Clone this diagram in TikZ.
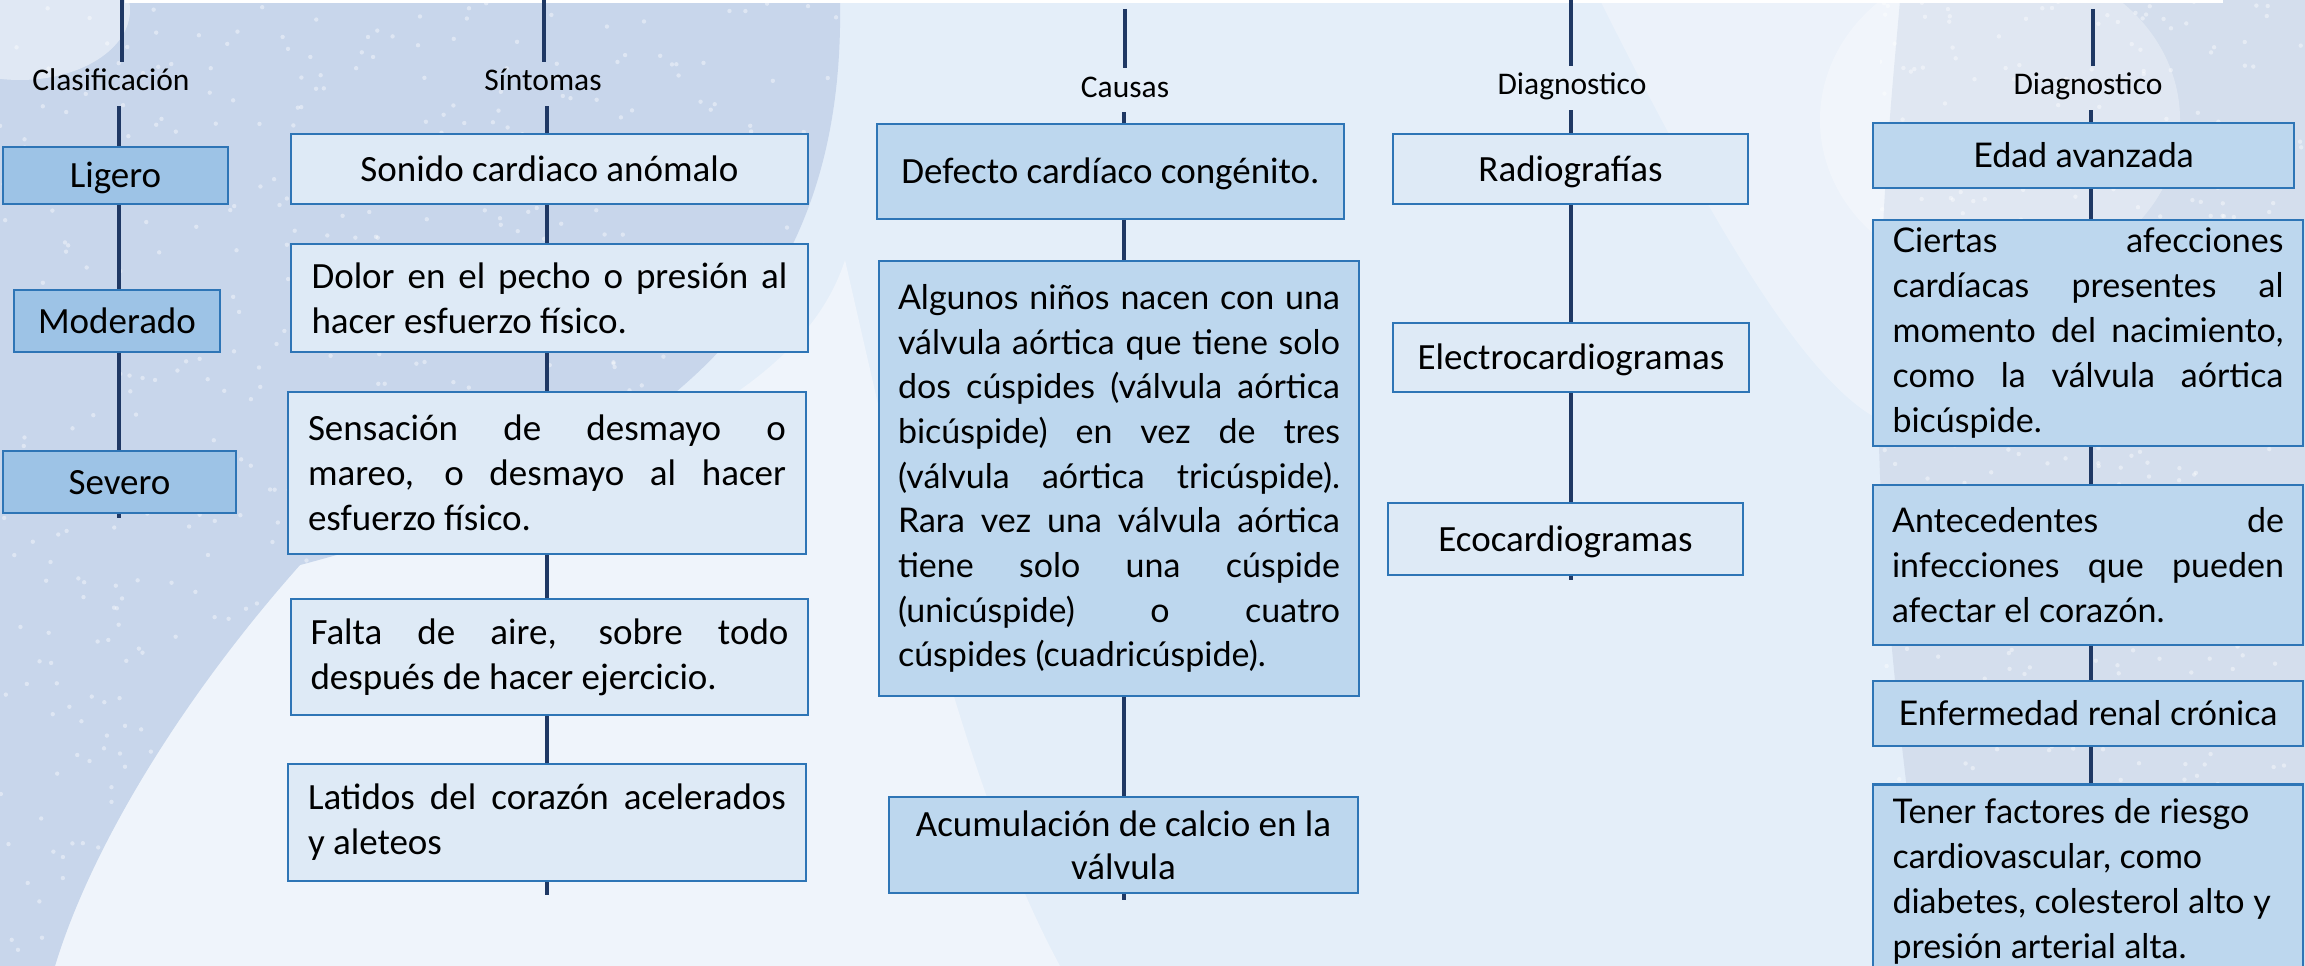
\documentclass[tikz,border=0pt]{standalone}
\usepackage{fontspec}
\setmainfont{Carlito}
\newfontfamily\gillf{Lato}
\newcommand{\jl}[2]{\makebox[#1][s]{#2}}
\definecolor{bgbase}{HTML}{E4EEF9}
\definecolor{bgdark}{HTML}{C8D6EB}
\definecolor{bgwhite}{HTML}{EFF4FB}
\definecolor{bgright}{HTML}{D4DEED}
\definecolor{linec}{HTML}{1F3864}
\definecolor{bordc}{HTML}{2E75B6}
\definecolor{fillA}{HTML}{9DC3E6}
\definecolor{fillB}{HTML}{DEEAF6}
\definecolor{fillC}{HTML}{BDD7EE}
\tikzset{
  conn/.style={draw=linec, line width=3.5pt},
  bx/.style={draw=bordc, line width=2.6pt, inner sep=0pt, anchor=center, text=black},
  bxA/.style={bx, fill=fillA},
  bxB/.style={bx, fill=fillB},
  bxC/.style={bx, fill=fillC},
  hd/.style={font=\fontsize{31.5}{38}\selectfont, inner sep=0pt, text height=29pt, text depth=15pt, anchor=base},
  cal/.style={font=\fontsize{37}{45}\selectfont},
  gil/.style={font=\gillf\fontsize{34}{45}\selectfont},
  gilc/.style={font=\gillf\fontsize{34}{44.7}\selectfont},
  one/.style={text height=30pt, text depth=6pt},
  oneg/.style={text height=29pt, text depth=6pt},
  speck/.style={fill=white, opacity=0.4},
}
\begin{document}
\begin{tikzpicture}[x=1pt,y=-1pt]
\useasboundingbox (0,0) rectangle (2305,966);
\clip (0,0) rectangle (2305,966);
% ---------- background ----------
\fill[bgbase] (0,0) rectangle (2305,966);
\fill[bgwhite] (845,260) .. controls (900,500) and (960,780) .. (1060,966) -- (55,966)
   .. controls (90,850) and (180,700) .. (300,565) .. controls (600,480) and (800,400) .. (845,260) -- cycle;
\fill[bgdark] (0,0) -- (840,0) .. controls (845,280) and (700,460) .. (300,565)
   .. controls (180,700) and (90,850) .. (55,966) -- (0,966) -- cycle;
\fill[white, opacity=0.45] (20,10) ellipse [x radius=110, y radius=70];
\fill[bgwhite, opacity=0.8] (1600,0) .. controls (1700,200) and (1800,380) .. (1880,420) -- (1900,0) -- cycle;
\fill[bgright] (1900,0) -- (2305,0) -- (2305,966) -- (1930,966)
   .. controls (1900,750) and (1870,500) .. (1880,300) .. controls (1885,150) and (1895,60) .. (1900,0) -- cycle;
\fill[white, opacity=0.3] (2000,120) ellipse [x radius=180, y radius=160];
\begin{scope}
  \clip (0,0) -- (840,0) .. controls (845,280) and (700,460) .. (300,565)
   .. controls (180,700) and (90,850) .. (55,966) -- (0,966) -- cycle;
  \pgfmathsetseed{7}
  \foreach \i in {1,...,700} {
    \pgfmathsetmacro\px{rnd*860}
    \pgfmathsetmacro\py{rnd*966}
    \fill[speck] (\px,\py) circle (2.2);
  }
\end{scope}
\begin{scope}
  \clip (1880,0) rectangle (2305,966);
  \pgfmathsetseed{11}
  \foreach \i in {1,...,450} {
    \pgfmathsetmacro\px{1880+rnd*425}
    \pgfmathsetmacro\py{rnd*966}
    \fill[speck] (\px,\py) circle (2.2);
  }
\end{scope}
\fill[white] (125,0) rectangle (2223,3);
% ---------- column 1 ----------
\coordinate (x1) at (119,0);
\coordinate (t1) at (122,0);
\coordinate (s1) at (119,518);
\node[hd] (h1) at (111,91) {Clasificación};
\node[bxA, cal, one, minimum width=225pt, minimum height=57pt] (lig) at (115.5,175.5) {Ligero};
\node[bxA, cal, one, minimum width=206pt, minimum height=62pt] (mod) at (117,321) {Moderado};
\node[bxA, cal, one, minimum width=233pt, minimum height=62pt] (sev) at (119.5,482) {Severo};
\draw[conn] (t1) -- (t1 |- h1.north);
\draw[conn] (h1.south -| x1) -- (lig.north -| x1);
\draw[conn] (lig.south -| x1) -- (mod.north -| x1);
\draw[conn] (mod.south -| x1) -- (sev.north -| x1);
\draw[conn] (sev.south -| x1) -- (s1);
% ---------- column 2 ----------
\coordinate (x2) at (547,0);
\coordinate (t2) at (544,0);
\coordinate (s2) at (547,895);
\node[hd] (h2) at (543,91) {Síntomas};
\node[bxB, cal, one, minimum width=517pt, minimum height=70pt] (son) at (549.5,169) {Sonido cardiaco anómalo};
\node[bxB, cal, minimum width=517pt, minimum height=108pt] (dol) at (549.5,298)
  {\parbox{476pt}{\jl{476pt}{Dolor en el pecho o presión al}\\hacer esfuerzo físico.}};
\node[bxB, cal, minimum width=518pt, minimum height=162pt] (sen) at (547,473)
  {\parbox{478pt}{\jl{478pt}{Sensación de desmayo o}\\\jl{478pt}{mareo, o desmayo al hacer}\\esfuerzo físico.}};
\node[bxB, cal, minimum width=517pt, minimum height=116pt] (fal) at (549.5,657)
  {\parbox{478pt}{\jl{478pt}{Falta de aire, sobre todo}\\después de hacer ejercicio.}};
\node[bxB, cal, minimum width=518pt, minimum height=117pt] (lat) at (547,822.5)
  {\parbox{478pt}{\jl{478pt}{Latidos del corazón acelerados}\\y aleteos}};
\draw[conn] (t2) -- (t2 |- h2.north);
\draw[conn] (h2.south -| x2) -- (son.north -| x2);
\draw[conn] (son.south -| x2) -- (dol.north -| x2);
\draw[conn] (dol.south -| x2) -- (sen.north -| x2);
\draw[conn] (sen.south -| x2) -- (fal.north -| x2);
\draw[conn] (fal.south -| x2) -- (lat.north -| x2);
\draw[conn] (lat.south -| x2) -- (s2);
% ---------- column 3 ----------
\coordinate (x3) at (1124,0);
\coordinate (t3) at (1125,9);
\coordinate (s3) at (1124,900);
\node[hd] (h3) at (1125,97) {Causas};
\node[bxC, cal, one, minimum width=467pt, minimum height=95pt] (def) at (1110.5,171.5) {Defecto cardíaco congénito.};
\node[bxC, gilc, minimum width=480pt, minimum height=435pt] (alg) at (1119,478.5)
  {\parbox{442pt}{%
   \jl{442pt}{Algunos niños nacen con una}\\
   \jl{442pt}{válvula aórtica que tiene solo}\\
   \jl{442pt}{dos cúspides (válvula aórtica}\\
   \jl{442pt}{bicúspide) en vez de tres}\\
   \jl{442pt}{(válvula aórtica tricúspide).}\\
   \jl{442pt}{Rara vez una válvula aórtica}\\
   \jl{442pt}{tiene solo una cúspide}\\
   \jl{442pt}{(unicúspide) o cuatro}\\
   cúspides (cuadricúspide).}};
\node[bxC, font=\fontsize{37}{43}\selectfont, minimum width=469pt, minimum height=96pt] (acu) at (1123.5,845)
  {\parbox{450pt}{\centering Acumulación de calcio en la\\válvula}};
\draw[conn] (t3) -- (t3 |- h3.north);
\draw[conn] (h3.south -| x3) -- (def.north -| x3);
\draw[conn] (def.south -| x3) -- (alg.north -| x3);
\draw[conn] (alg.south -| x3) -- (acu.north -| x3);
\draw[conn] (acu.south -| x3) -- (s3);
% ---------- column 4 ----------
\coordinate (x4) at (1571,0);
\coordinate (t4) at (1571,0);
\coordinate (s4) at (1571,580);
\node[hd] (h4) at (1572,95) {Diagnostico};
\node[bxB, cal, one, minimum width=355pt, minimum height=70pt] (rad) at (1570.5,169) {Radiografías};
\node[bxB, cal, one, minimum width=356pt, minimum height=69pt] (ele) at (1571,357.5) {Electrocardiogramas};
\node[bxB, cal, one, minimum width=355pt, minimum height=72pt] (eco) at (1565.5,539) {Ecocardiogramas};
\draw[conn] (t4) -- (t4 |- h4.north);
\draw[conn] (h4.south -| x4) -- (rad.north -| x4);
\draw[conn] (rad.south -| x4) -- (ele.north -| x4);
\draw[conn] (ele.south -| x4) -- (eco.north -| x4);
\draw[conn] (eco.south -| x4) -- (s4);
% ---------- column 5 ----------
\coordinate (x5) at (2091,0);
\coordinate (t5) at (2093,9);
\node[hd] (h5) at (2088,95) {Diagnostico};
\node[bxC, gil, oneg, minimum width=421pt, minimum height=65pt] (eda) at (2083.5,155.5) {Edad avanzada};
\node[bxC, gil, minimum width=430pt, minimum height=226pt] (cie) at (2088,333)
  {\parbox{391pt}{\jl{391pt}{Ciertas afecciones}\\\jl{391pt}{cardíacas presentes al}\\\jl{391pt}{momento del nacimiento,}\\\jl{391pt}{como la válvula aórtica}\\bicúspide.}};
\node[bxC, gil, minimum width=430pt, minimum height=160pt] (ant) at (2088,565)
  {\parbox{392pt}{\jl{392pt}{Antecedentes de}\\\jl{392pt}{infecciones que pueden}\\afectar el corazón.}};
\node[bxC, gil, oneg, minimum width=430pt, minimum height=65pt] (enf) at (2088,713.5) {Enfermedad renal crónica};
\node[bxC, gil, anchor=north, inner xsep=19.5pt, inner ysep=14pt] (ten) at (2088,783)
  {\parbox[c][190pt][t]{391pt}{\raggedright Tener factores de riesgo\\cardiovascular, como\\diabetes, colesterol alto y\\presión arterial alta.}};
\draw[conn] (t5) -- (t5 |- h5.north);
\draw[conn] (h5.south -| x5) -- (eda.north -| x5);
\draw[conn] (eda.south -| x5) -- (cie.north -| x5);
\draw[conn] (cie.south -| x5) -- (ant.north -| x5);
\draw[conn] (ant.south -| x5) -- (enf.north -| x5);
\draw[conn] (enf.south -| x5) -- (ten.north -| x5);
\end{tikzpicture}
\end{document}
